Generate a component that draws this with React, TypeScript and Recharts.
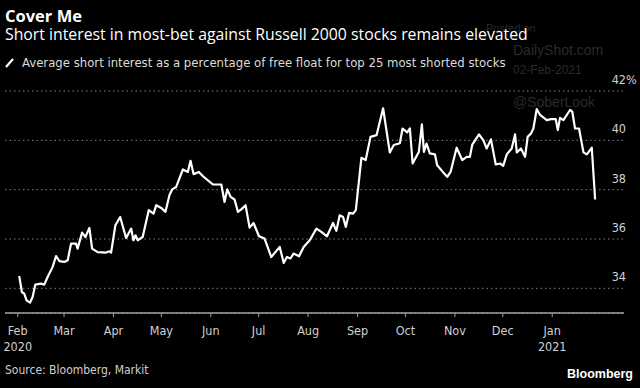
import React from 'react';
import { LineChart, Line, XAxis, YAxis, CartesianGrid } from 'recharts';

// Days since 2020-02-01
const days = [
  0.9, 2.6, 4.1, 5.5, 7.7, 9.3, 11.0, 14.6, 16.6, 18.7, 21.8, 24.0, 26.1, 29.2, 31.3, 33.4, 36.5, 37.5, 40.3, 42.4,
  44.9, 46.6, 50.1, 55.4, 57.4, 58.5, 61.2, 64.2, 67.9, 71.1, 72.5, 73.8, 75.2, 78.3, 82.1, 85.1, 86.8, 89.9, 92.6, 95.1,
  96.8, 99.3, 103.5, 106.6, 108.3, 110.2, 113.5, 116.0, 122.3, 127.6, 129.6, 131.3, 133.4, 135.9, 138.0, 140.1, 142.8, 145.3, 147.8, 151.2,
  154.7, 158.9, 164.2, 166.7, 168.7, 170.9, 172.9, 176.3, 179.2, 183.0, 187.2, 190.3, 193.8, 197.6, 199.7, 201.8, 203.9, 205.6, 207.7, 210.2,
  211.9, 215.4, 218.1, 221.1, 224.9, 229.0, 233.2, 235.7, 239.5, 241.2, 244.1, 245.8, 247.5, 250.3, 251.4, 253.3, 254.6, 256.2, 258.3, 261.5,
  262.9, 266.7, 269.2, 271.3, 275.1, 278.6, 281.4, 283.4, 284.9, 289.1, 291.8, 293.9, 296.6, 299.6, 302.3, 304.3, 306.5, 309.6, 311.7, 312.8,
  315.4, 318.0, 319.6, 321.7, 323.2, 325.3, 327.4, 331.6, 334.3, 337.2, 338.5, 339.9, 342.0, 346.2, 347.6, 349.3, 351.8, 354.6, 356.7, 359.8,
  361.9,
];

const shortInterest = [
  34.50, 33.85, 33.78, 33.51, 33.42, 33.65, 34.15, 34.19, 34.15, 34.46, 34.86, 35.31, 35.10, 35.07, 35.14, 35.81, 35.81, 35.61, 36.26, 36.08,
  36.45, 35.61, 35.47, 35.45, 35.50, 35.45, 36.56, 36.89, 36.04, 36.42, 35.95, 36.15, 35.95, 36.08, 37.17, 37.03, 37.37, 37.26, 37.10, 37.78,
  38.01, 38.11, 38.82, 38.72, 39.17, 38.63, 38.72, 38.55, 38.21, 38.21, 37.50, 38.01, 37.71, 37.60, 37.10, 37.20, 37.37, 36.46, 36.65, 36.11,
  36.02, 35.27, 35.68, 35.03, 35.27, 35.21, 35.41, 35.30, 35.68, 35.95, 36.42, 36.29, 36.11, 36.65, 36.33, 36.96, 36.89, 36.49, 37.06, 37.03,
  37.17, 39.29, 39.20, 40.14, 40.21, 41.30, 39.51, 39.81, 39.88, 40.48, 40.32, 40.48, 39.06, 39.40, 39.53, 40.65, 39.53, 39.87, 39.47, 39.43,
  38.99, 38.70, 38.52, 38.72, 39.70, 39.20, 39.33, 39.33, 39.83, 40.24, 40.01, 39.67, 40.04, 39.02, 39.06, 38.97, 39.43, 39.67, 40.24, 39.51,
  39.67, 39.33, 40.14, 40.28, 40.48, 41.27, 41.03, 40.82, 40.86, 40.86, 40.42, 40.91, 40.82, 41.23, 41.16, 40.48, 40.48, 39.51, 39.43, 39.70,
  37.60,
];

const monthTicks = [0, 29, 60, 90, 121, 151, 182, 213, 243, 274, 304, 335];
const monthLabels = ['Feb', 'Mar', 'Apr', 'May', 'Jun', 'Jul', 'Aug', 'Sep', 'Oct', 'Nov', 'Dec', 'Jan'];
const yearLabels: Record<number, string> = { 0: '2020', 335: '2021' };
const yTicks = [34, 36, 38, 40, 42];

const title = 'Cover Me';
const subtitle = 'Short interest in most-bet against Russell 2000 stocks remains elevated';
const legendText = 'Average short interest as a percentage of free float for top 25 most shorted stocks';
const sourceText = 'Source: Bloomberg, Markit';
const brand = 'Bloomberg';

const data = days.map((d, i) => ({ day: d, v: shortInterest[i] }));

const COND = "'DejaVu Sans Condensed', 'DejaVu Sans', sans-serif";
const condStyle = { fontStretch: 'condensed' as const };

const XTick = (props: any) => {
  const { x, payload } = props;
  const idx = monthTicks.indexOf(payload.value);
  const year = yearLabels[payload.value];
  return (
    <g>
      <text x={x} y={335} textAnchor="middle" fill="#d0d0d0" fontSize={12.5} fontFamily={COND} style={condStyle}>
        {monthLabels[idx]}
      </text>
      {year ? (
        <text x={x} y={351} textAnchor="middle" fill="#d0d0d0" fontSize={12.5} fontFamily={COND} style={condStyle}>
          {year}
        </text>
      ) : null}
    </g>
  );
};

const YTick = (props: any) => {
  const { y, payload } = props;
  const v = payload.value;
  return (
    <g>
      <text x={626} y={y - 7} textAnchor="end" fill="#d0d0d0" fontSize={12.5} fontFamily={COND} style={condStyle}>
        {v}
      </text>
      {v === 42 ? (
        <text x={626} y={y - 7} textAnchor="start" fill="#d0d0d0" fontSize={12.5} fontFamily={COND} style={condStyle}>
          %
        </text>
      ) : null}
    </g>
  );
};

export default function App() {
  return (
    <div style={{ position: 'fixed', left: 0, top: 0, width: 640, height: 388, background: '#000', overflow: 'hidden' }}>
      <svg width={640} height={388} style={{ position: 'absolute', left: 0, top: 0 }}>
        <g fontFamily="'Liberation Sans', Arial, sans-serif" fill="#2a2a2a">
          <text x={486} y={32} fontSize={11}>Posted on</text>
          <text x={513} y={55} fontSize={14}>DailyShot.com</text>
          <text x={513} y={74} fontSize={12}>02-Feb-2021</text>
          <text x={513} y={107} fontSize={14}>@SoberLook</text>
        </g>
      </svg>
      <div style={{ position: 'absolute', left: 0, top: 0 }}>
        <LineChart width={640} height={388} data={data} margin={{ top: 91, right: 0, left: 5, bottom: 35 }}>
          <CartesianGrid horizontal vertical={false} stroke="#808080" strokeDasharray="1.5 3" />
          <XAxis
            dataKey="day"
            type="number"
            domain={[-8, 380]}
            ticks={monthTicks}
            interval={0}
            allowDataOverflow
            height={40}
            axisLine={{ stroke: '#a0a0a0', strokeWidth: 1.5 }}
            tickLine={{ stroke: '#a0a0a0' }}
            tickSize={4}
            tick={<XTick />}
          />
          <YAxis
            orientation="right"
            width={16}
            domain={[33, 42]}
            ticks={yTicks}
            interval={0}
            allowDataOverflow
            axisLine={false}
            tickLine={false}
            tick={<YTick />}
          />
          <Line
            type="linear"
            dataKey="v"
            stroke="#ffffff"
            strokeWidth={2.2}
            dot={false}
            isAnimationActive={false}
            strokeLinejoin="round"
          />
        </LineChart>
      </div>
      <svg width={640} height={388} style={{ position: 'absolute', left: 0, top: 0, pointerEvents: 'none' }}>
        <text x={5} y={21.5} fill="#ffffff" fontSize={16.5} fontWeight={700} fontFamily="'Open Sans', sans-serif">{title}</text>
        <text x={5} y={40} fill="#ffffff" fontSize={15.8} fontFamily="'Open Sans', sans-serif">{subtitle}</text>
        <line x1={6} y1={67} x2={13} y2={59} stroke="#ffffff" strokeWidth={2.2} />
        <text x={22} y={66.7} fill="#dcdcdc" fontSize={13} fontFamily={COND} style={condStyle}>{legendText}</text>
        <text x={5} y={374} fill="#d0d0d0" fontSize={12} fontFamily={COND} style={condStyle}>{sourceText}</text>
        <text x={633} y={378} textAnchor="end" fill="#ffffff" fontSize={12.5} fontWeight={700} fontFamily="'Liberation Sans', Arial, sans-serif">{brand}</text>
      </svg>
    </div>
  );
}
